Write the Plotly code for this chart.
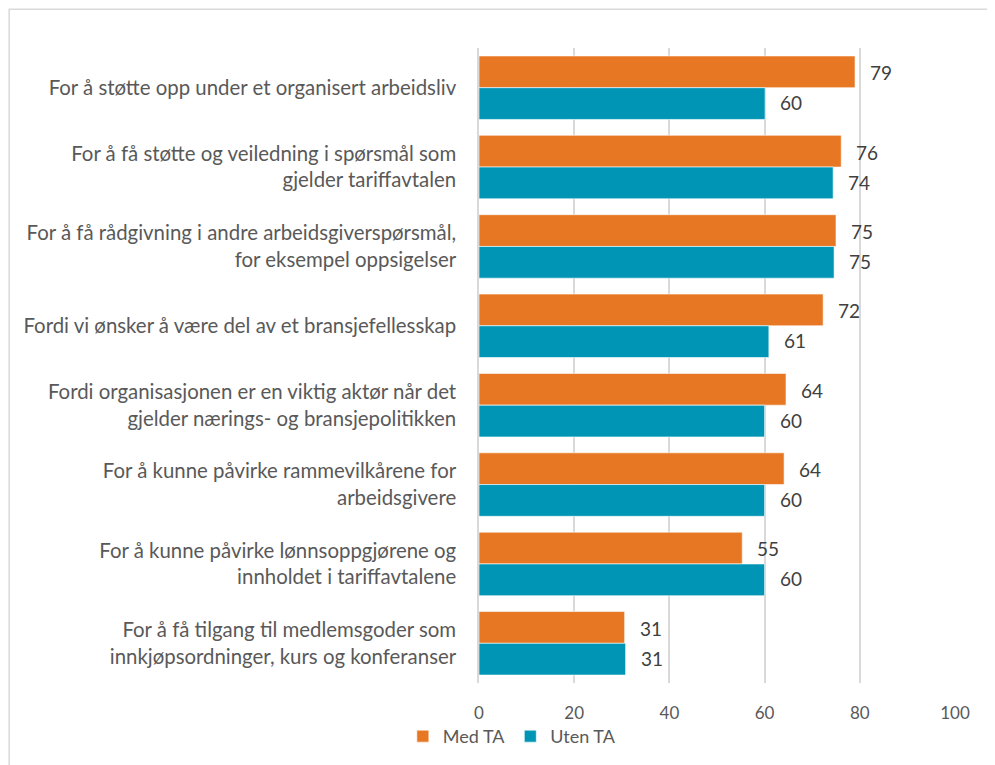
import plotly.graph_objects as go

categories = [
    "For å støtte opp under et organisert arbeidsliv",
    "For å få støtte og veiledning i spørsmål som<br>gjelder tariffavtalen",
    "For å få rådgivning i andre arbeidsgiverspørsmål,<br>for eksempel oppsigelser",
    "Fordi vi ønsker å være del av et bransjefellesskap",
    "Fordi organisasjonen er en viktig aktør når det<br>gjelder nærings- og bransjepolitikken",
    "For å kunne påvirke rammevilkårene for<br>arbeidsgivere",
    "For å kunne påvirke lønnsoppgjørene og<br>innholdet i tariffavtalene",
    "For å få tilgang til medlemsgoder som<br>innkjøpsordninger, kurs og konferanser",
]
med_ta = [79.0, 76.1, 75.0, 72.3, 64.5, 64.1, 55.3, 30.6]
uten_ta = [60.1, 74.4, 74.6, 60.9, 60.0, 60.0, 60.0, 30.8]

ORANGE = "#E77723"
TEAL = "#0095B5"
FONT = "Lato"
GREY = "#595959"

fig = go.Figure()
fig.add_trace(go.Bar(y=categories, x=med_ta, orientation="h", name="Med TA",
                     marker=dict(color=ORANGE, line=dict(color="white", width=0.6))))
fig.add_trace(go.Bar(y=categories, x=uten_ta, orientation="h", name="Uten TA",
                     marker=dict(color=TEAL, line=dict(color="white", width=0.6))))

# value labels, just right of each bar
for i, cat in enumerate(categories):
    for val, yshift in ((med_ta[i], 15), (uten_ta[i], -15)):
        fig.add_annotation(x=val, y=cat, text=f"{val:.0f}", showarrow=False,
                           xanchor="left", xshift=13, yshift=yshift,
                           font=dict(size=19, color="#404040", family=FONT))

# page body adds 8px, so the figure is sized/margined to compensate
fig.update_layout(
    width=987, height=757,
    margin=dict(l=471, r=40, t=40, b=82, autoexpand=False),
    paper_bgcolor="white", plot_bgcolor="white",
    barmode="group", bargap=0.2, bargroupgap=0,
    font=dict(family=FONT, size=20, color=GREY),
    legend=dict(orientation="h", x=-0.16, xanchor="left", y=-0.055, yanchor="top",
                font=dict(size=18, color=GREY), traceorder="normal",
                itemwidth=30, bgcolor="rgba(0,0,0,0)"),
    showlegend=True,
    shapes=[dict(type="rect", xref="paper", yref="paper", x0=-0.987, x1=1.12, y0=-0.2, y1=1.061,
                 line=dict(color="#d9d9d9", width=1.5))],
)
fig.update_xaxes(range=[0, 100], dtick=20, showgrid=True, gridcolor="#d9d9d9", gridwidth=1.5,
                 zeroline=False, showline=False, ticks="", ticklabelstandoff=18,
                 tickfont=dict(size=17, color=GREY))
fig.update_yaxes(autorange="reversed", showline=True, linecolor="#d9d9d9", linewidth=1.5,
                 ticks="", ticklabelstandoff=17, tickfont=dict(size=20.4, color=GREY))

fig.write_html("out.html")
